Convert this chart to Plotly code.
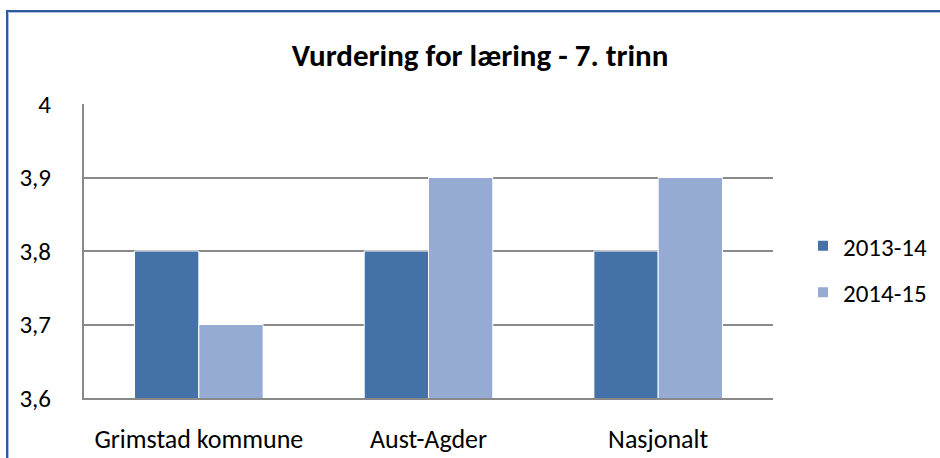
import plotly.graph_objects as go

categories = ["Grimstad kommune", "Aust-Agder", "Nasjonalt"]
series_names = ["2013-14", "2014-15"]
values_2013_14 = [3.8, 3.8, 3.8]
values_2014_15 = [3.7, 3.9, 3.9]
tick_vals = [3.6, 3.7, 3.8, 3.9, 4.0]
tick_text = ["3,6", "3,7", "3,8", "3,9", "4"]

colors = ["#4472A8", "#95ABD4"]
font_family = "Carlito, Lato, sans-serif"

fig = go.Figure()
for name, vals, col in zip(series_names, [values_2013_14, values_2014_15], colors):
    fig.add_trace(go.Bar(
        x=categories, y=vals, name=name, legendgroup=name,
        marker=dict(color=col, line=dict(color="white", width=1)),
    ))

W, H = 940, 458
L, T = 84, 104
R = W - 773
B = H - 398
pw, ph = W - L - R, H - T - B


def px_x(sx):
    return (sx - L) / pw


def px_y(sy):
    return 1 - (sy - T) / ph


frame_shapes = [
    dict(type="line", xref="paper", yref="paper", x0=px_x(7), x1=px_x(7),
         y0=px_y(480), y1=px_y(10), line=dict(color="#2E5A9A", width=2), layer="below"),
    dict(type="line", xref="paper", yref="paper", x0=px_x(6), x1=px_x(980),
         y0=px_y(11), y1=px_y(11), line=dict(color="#2E5A9A", width=2), layer="below"),
    dict(type="line", xref="paper", yref="paper", x0=px_x(8.5), x1=px_x(8.5),
         y0=px_y(480), y1=px_y(12.5), line=dict(color="#A9BEE0", width=1), layer="below"),
    dict(type="line", xref="paper", yref="paper", x0=px_x(8.5), x1=px_x(980),
         y0=px_y(12.5), y1=px_y(12.5), line=dict(color="#A9BEE0", width=1), layer="below"),
]

fig.update_layout(
    width=W, height=H,
    margin=dict(l=L, r=R, t=T, b=B, autoexpand=False),
    paper_bgcolor="white", plot_bgcolor="white",
    barmode="group", bargap=0.44, bargroupgap=0.0,
    title=dict(text="<b>Vurdering for læring - 7. trinn</b>", x=480 / W, xanchor="center",
               y=1 - 55 / H, yanchor="middle",
               font=dict(family=font_family, size=31, color="black")),
    font=dict(family=font_family, size=25, color="black"),
    legend=dict(x=px_x(803), y=px_y(269), xanchor="left", yanchor="middle",
                font=dict(size=25), itemsizing="constant", tracegroupgap=11),
    showlegend=True,
    xaxis=dict(showline=True, linecolor="#898989", linewidth=2, ticks="",
               ticklabelstandoff=17, tickfont=dict(size=26), fixedrange=True),
    yaxis=dict(range=[3.6, 4.0], tickvals=tick_vals, ticktext=tick_text,
               showgrid=True, gridcolor="#898989", gridwidth=1.5,
               showline=True, linecolor="#898989", linewidth=2,
               ticks="", ticklabelstandoff=26, tickfont=dict(size=25)),
    shapes=frame_shapes,
)
fig.write_html(
    "out.html",
    config={"displayModeBar": False},
    post_script="document.body.style.margin='0px';document.body.style.overflow='hidden';",
)
